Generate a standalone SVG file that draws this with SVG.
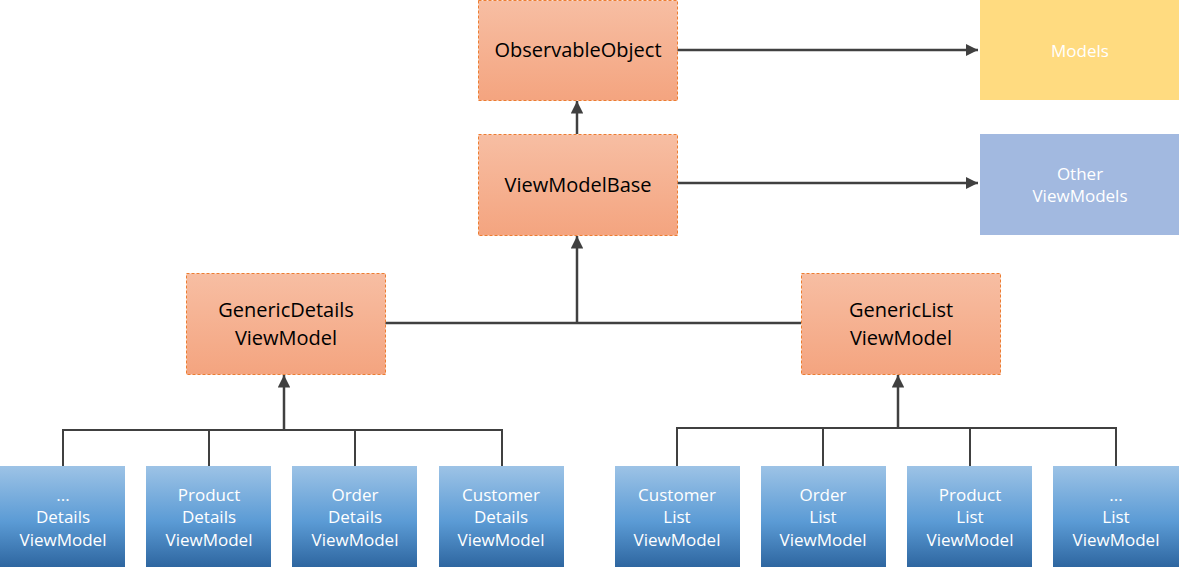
<svg xmlns="http://www.w3.org/2000/svg" width="1179" height="567" viewBox="0 0 1179 567">
<defs>
<linearGradient id="og" x1="0" y1="0" x2="0" y2="1"><stop offset="0" stop-color="#F7BEA3"/><stop offset="1" stop-color="#F4A47F"/></linearGradient>
<linearGradient id="bg" x1="0" y1="0" x2="0" y2="1"><stop offset="0" stop-color="#9DC3E6"/><stop offset="0.55" stop-color="#5B9BD5"/><stop offset="1" stop-color="#2E66A0"/></linearGradient>
<marker id="ar" viewBox="0 0 10 10" refX="10" refY="5" markerWidth="5" markerHeight="5" orient="auto" markerUnits="strokeWidth"><path d="M0,0 L10,5 L0,10 z" fill="#404040"/></marker>
<style>
.o{fill:url(#og);stroke:#ED7D31;stroke-width:1;stroke-dasharray:3 2}
.b{fill:url(#bg)}
.t{font-family:"Segoe UI","Open Sans","Noto Sans",sans-serif;font-size:20px;fill:#000;text-anchor:middle}
.w{font-family:"Segoe UI","Open Sans","Noto Sans",sans-serif;font-size:17px;fill:#fff;text-anchor:middle}
.c{fill:none;stroke:#404040;stroke-width:2.5}
.c2{fill:none;stroke:#404040;stroke-width:2}
</style>
</defs>
<g id="connectors">
<path class="c" d="M677,50 H978" marker-end="url(#ar)"/>
<path class="c" d="M677,183 H978" marker-end="url(#ar)"/>
<path class="c" d="M577,134 V101" marker-end="url(#ar)"/>
<path class="c" d="M385,323 H801"/>
<path class="c" d="M577,323 V236" marker-end="url(#ar)"/>
<path class="c2" d="M63,466 V430 H502 V466 M209,430 V466 M355,430 V466"/>
<path class="c" d="M284,430 V375" marker-end="url(#ar)"/>
<path class="c2" d="M677,466 V428 H1116 V466 M823,428 V466 M970,428 V466"/>
<path class="c" d="M898,428 V375" marker-end="url(#ar)"/>
</g>
<g id="observable"><rect class="o" x="478.5" y="0.5" width="199" height="100"/><text class="t" x="578" y="57">ObservableObject</text></g>
<g id="vmbase"><rect class="o" x="478.5" y="134.5" width="199" height="101"/><text class="t" x="578" y="192">ViewModelBase</text></g>
<g id="genericdetails"><rect class="o" x="186.5" y="273.5" width="199" height="101"/><text class="t" x="286" y="317">GenericDetails</text><text class="t" x="286" y="345">ViewModel</text></g>
<g id="genericlist"><rect class="o" x="801.5" y="273.5" width="199" height="101"/><text class="t" x="901" y="317">GenericList</text><text class="t" x="901" y="345">ViewModel</text></g>
<g id="models"><rect x="980" y="0" width="199" height="100" fill="#FFDB80"/><text class="w" x="1080" y="57">Models</text></g>
<g id="otherviewmodels"><rect x="980" y="134" width="199" height="101" fill="#A2B9E0"/><text class="w" x="1080" y="180">Other</text><text class="w" x="1080" y="202">ViewModels</text></g>
<g id="d1"><rect class="b" x="0" y="466" width="125" height="101"/><text class="w" x="63" y="501">...</text><text class="w" x="63" y="523">Details</text><text class="w" x="63" y="546">ViewModel</text></g>
<g id="d2"><rect class="b" x="146" y="466" width="125" height="101"/><text class="w" x="209" y="501">Product</text><text class="w" x="209" y="523">Details</text><text class="w" x="209" y="546">ViewModel</text></g>
<g id="d3"><rect class="b" x="292" y="466" width="125" height="101"/><text class="w" x="355" y="501">Order</text><text class="w" x="355" y="523">Details</text><text class="w" x="355" y="546">ViewModel</text></g>
<g id="d4"><rect class="b" x="439" y="466" width="125" height="101"/><text class="w" x="501" y="501">Customer</text><text class="w" x="501" y="523">Details</text><text class="w" x="501" y="546">ViewModel</text></g>
<g id="l1"><rect class="b" x="615" y="466" width="125" height="101"/><text class="w" x="677" y="501">Customer</text><text class="w" x="677" y="523">List</text><text class="w" x="677" y="546">ViewModel</text></g>
<g id="l2"><rect class="b" x="761" y="466" width="125" height="101"/><text class="w" x="823" y="501">Order</text><text class="w" x="823" y="523">List</text><text class="w" x="823" y="546">ViewModel</text></g>
<g id="l3"><rect class="b" x="907" y="466" width="125" height="101"/><text class="w" x="970" y="501">Product</text><text class="w" x="970" y="523">List</text><text class="w" x="970" y="546">ViewModel</text></g>
<g id="l4"><rect class="b" x="1053" y="466" width="126" height="101"/><text class="w" x="1116" y="501">...</text><text class="w" x="1116" y="523">List</text><text class="w" x="1116" y="546">ViewModel</text></g>
</svg>
